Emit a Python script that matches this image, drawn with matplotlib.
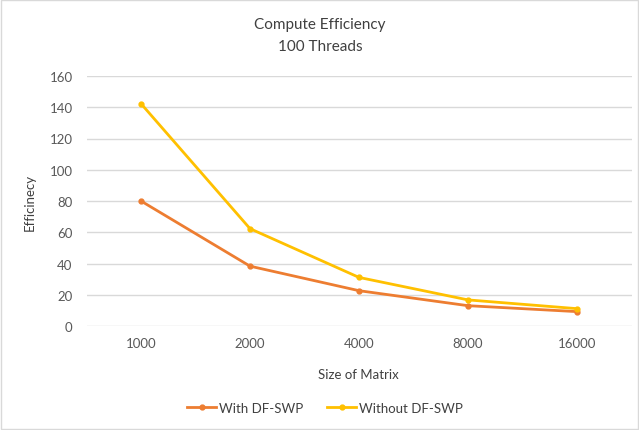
import numpy as np
import matplotlib
matplotlib.use("Agg")
import matplotlib.pyplot as plt

plt.rcParams["font.family"] = ["Lato", "DejaVu Sans"]

sizes = ["1000", "2000", "4000", "8000", "16000"]
with_dfswp = [80, 38.3, 22.6, 13.0, 9.2]
without_dfswp = [142.3, 62.3, 31.1, 16.7, 11.1]

TEXT = "#404040"
TICK = "#595959"

fig = plt.figure(figsize=(6.39, 4.31), dpi=100)
ax = fig.add_axes([86.5 / 639, 1 - 327 / 431, 545 / 639, 250 / 431])

x = np.arange(len(sizes))
ax.plot(x, with_dfswp, color="#ED7D31", lw=2, marker="o", ms=3.5, label="With DF-SWP")
ax.plot(x, without_dfswp, color="#FFC000", lw=2, marker="o", ms=3.5, label="Without DF-SWP")

ax.set_xlim(-0.5, len(sizes) - 0.5)
ax.set_ylim(0, 160)
ax.set_yticks(np.arange(0, 161, 20))
ax.set_xticks(x)
ax.set_xticklabels(sizes)
ax.grid(axis="y", color="#D9D9D9", lw=1)
ax.set_axisbelow(True)
for s in ax.spines.values():
    s.set_visible(False)
ax.tick_params(length=0, labelsize=9.5, colors=TICK, pad=8)
ax.tick_params(axis="y", pad=10)

fig.text(320 / 639, 1 - 25 / 431, "Compute Efficiency", ha="center", va="center",
         fontsize=11, color=TEXT)
fig.text(320 / 639, 1 - 47 / 431, "100 Threads", ha="center", va="center",
         fontsize=11, color=TEXT)
fig.text(30 / 639, 1 - 202 / 431, "Efficinecy", rotation=90, ha="center", va="center",
         fontsize=9.5, color=TEXT)
fig.text(358 / 639, 1 - 375 / 431, "Size of Matrix", ha="center", va="center",
         fontsize=9.5, color=TEXT)

leg = fig.legend(loc="center", bbox_to_anchor=(325 / 639, 1 - 409 / 431), ncol=2,
                 frameon=False, fontsize=9.5, handlelength=2.2, columnspacing=1.8,
                 handletextpad=0.2)
for t in leg.get_texts():
    t.set_color(TEXT)

fig.patches.append(plt.Rectangle((0.002, 0.002), 0.996, 0.996, transform=fig.transFigure,
                                 fill=False, edgecolor="#D9D9D9", lw=1))

fig.savefig("out.png", dpi=100)
